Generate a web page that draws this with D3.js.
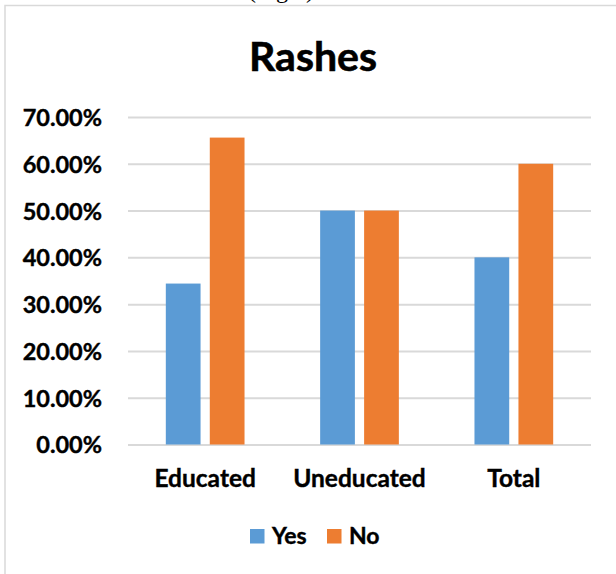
<!DOCTYPE html>
<html>
<head>
<meta charset="utf-8">
<script src="https://cdn.jsdelivr.net/npm/d3@7"></script>
<style>
  body { margin: 0; background: #fff; }
  svg { display: block; }
  text { font-family: Lato, "Open Sans", sans-serif; font-weight: bold; fill: #000; stroke: #000; stroke-width: 0.4px; }
</style>
</head>
<body>
<div id="chart"></div>
<script>
// data
const categories = ["Educated", "Uneducated", "Total"];
const seriesNames = ["Yes", "No"];
const yesValues = [0.344, 0.50, 0.40];
const noValues = [0.656, 0.50, 0.60];
const yTicks = [0, 0.1, 0.2, 0.3, 0.4, 0.5, 0.6, 0.7];
const colors = {Yes: "#5B9BD5", No: "#ED7D31"};

const W = 616, H = 574;
const margin = {top: 117, right: 25, bottom: 129.5, left: 128};

const svg = d3.select("#chart").append("svg")
    .attr("width", W)
    .attr("height", H);

// chart frame (runs off the right and bottom edge)
svg.append("rect")
    .attr("x", 5).attr("y", 5.5)
    .attr("width", W + 10).attr("height", H + 10)
    .attr("fill", "#fff")
    .attr("stroke", "#d9d9d9")
    .attr("stroke-width", 1.5);

// caption, cut off at the top as in the source
svg.append("text")
    .attr("x", 281).attr("y", -2)
    .attr("text-anchor", "middle")
    .style("font-family", "'Liberation Serif', serif")
    .style("font-weight", "normal")
    .style("stroke", "none")
    .attr("font-size", 24)
    .text("(Fig.1)");

svg.append("text")
    .attr("x", 313).attr("y", 71)
    .attr("text-anchor", "middle")
    .attr("font-size", 41)
    .style("stroke-width", "0.6px")
    .text("Rashes");

const x0 = d3.scaleBand()
    .domain(categories)
    .range([margin.left, W - margin.right]);

const groupW = x0.bandwidth() * 0.51;
const x1 = d3.scaleBand()
    .domain(seriesNames)
    .range([0, groupW])
    .paddingInner(0.21);

const y = d3.scaleLinear()
    .domain([0, 0.7])
    .range([H - margin.bottom, margin.top]);

// gridlines + y labels
const yAxis = d3.axisLeft(y)
    .tickValues(yTicks)
    .tickFormat(d3.format(".2%"))
    .tickSize(-(W - margin.right - margin.left))
    .tickPadding(26);

const gy = svg.append("g")
    .attr("transform", "translate(" + margin.left + ",0)")
    .call(yAxis);
gy.select(".domain").remove();
gy.selectAll(".tick line")
    .attr("stroke", "#d9d9d9")
    .attr("stroke-width", 2);
gy.selectAll(".tick text")
    .attr("font-size", 23.5)
    .attr("dy", "0.36em");

const rows = categories.map((c, i) => ({cat: c, Yes: yesValues[i], No: noValues[i]}));

const groups = svg.selectAll(".grp")
    .data(rows)
    .join("g")
    .attr("class", "grp")
    .attr("transform", d => "translate(" + (x0(d.cat) + (x0.bandwidth() - groupW) / 2) + ",0)");

groups.selectAll("rect")
    .data(d => seriesNames.map(s => ({s: s, v: d[s]})))
    .join("rect")
    .attr("x", d => x1(d.s))
    .attr("y", d => y(d.v))
    .attr("width", x1.bandwidth())
    .attr("height", d => y(0) - y(d.v))
    .attr("fill", d => colors[d.s]);

// category labels
svg.selectAll(".cat")
    .data(categories)
    .join("text")
    .attr("class", "cat")
    .attr("x", d => x0(d) + x0.bandwidth() / 2)
    .attr("y", 487)
    .attr("text-anchor", "middle")
    .attr("font-size", 24.5)
    .text(d => d);

// legend
const legend = svg.append("g").attr("transform", "translate(250,529)");
const legX = [0, 77];
seriesNames.forEach((s, i) => {
    legend.append("rect")
        .attr("x", legX[i]).attr("y", 0)
        .attr("width", 14.5).attr("height", 14.5)
        .attr("fill", colors[s]);
    legend.append("text")
        .attr("x", legX[i] + 22).attr("y", 14.5)
        .attr("font-size", 23)
        .text(s);
});
</script>
</body>
</html>
